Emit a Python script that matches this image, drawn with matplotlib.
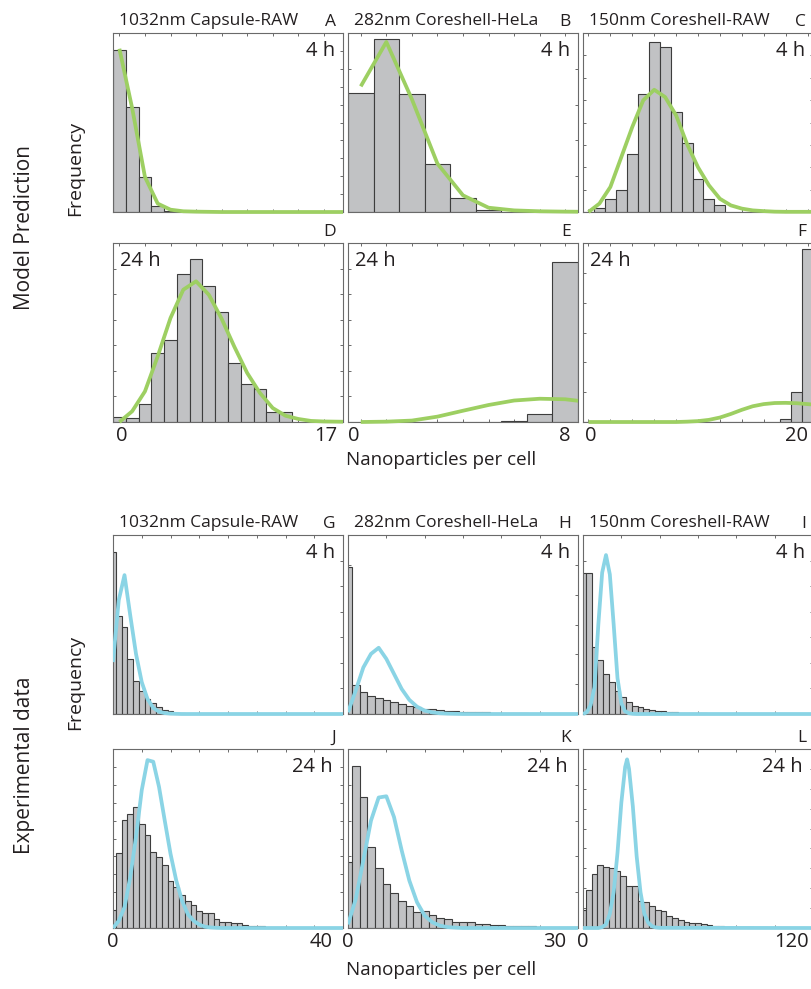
import numpy as np
import matplotlib
matplotlib.use('Agg')
import matplotlib.pyplot as plt
from matplotlib.transforms import ScaledTranslation, Bbox, TransformedBbox

plt.rcParams['font.family'] = ['Open Sans', 'DejaVu Sans']

# ---------------- data (frequencies as fraction of panel height) ----------------
titles = ['1032nm Capsule-RAW', '282nm Coreshell-HeLa', '150nm Coreshell-RAW']
letters = [['A', 'B', 'C'], ['D', 'E', 'F'], ['G', 'H', 'I'], ['J', 'K', 'L']]
time_labels = ['4 h', '24 h']
model_xmax = [17, 8, 20]
exp_xmax = [40, 30, 120]
model_bin = [1, 1, 1]
exp_bin = [1, 1, 3]

# Model prediction, 4 h
A_bars = [0.903, 0.587, 0.196, 0.034, 0.008, 0.002, 0, 0, 0, 0, 0, 0, 0, 0, 0, 0, 0, 0]
A_fit = [0.912, 0.58, 0.196, 0.047, 0.013, 0.004, 0.002, 0.001, 0, 0, 0, 0, 0, 0, 0, 0, 0, 0, 0]
B_bars = [0.665, 0.968, 0.657, 0.270, 0.080, 0.009, 0.002, 0, 0]
B_fit = [0.702, 0.950, 0.63, 0.27, 0.093, 0.024, 0.009, 0.004, 0.002, 0.001]
C_bars = [0, 0.024, 0.071, 0.125, 0.322, 0.661, 0.950, 0.922, 0.559, 0.387, 0.186,
          0.074, 0.037, 0, 0, 0, 0, 0, 0, 0, 0]
C_fit = [0, 0.047, 0.14, 0.307, 0.475, 0.624, 0.683, 0.642, 0.54, 0.38, 0.25,
         0.149, 0.074, 0.037, 0.019, 0.009, 0.005, 0.002, 0.001, 0.001, 0.001, 0.001]
# Model prediction, 24 h
D_bars = [0.028, 0.025, 0.10, 0.386, 0.458, 0.827, 0.912, 0.758, 0.614, 0.330,
          0.214, 0.184, 0.056, 0.056, 0, 0, 0, 0]
D_fit = [0, 0.06, 0.171, 0.367, 0.581, 0.739, 0.786, 0.711, 0.577, 0.42, 0.274,
         0.162, 0.078, 0.035, 0.017, 0.006, 0.003, 0.002, 0.001]
E_bars = [0, 0, 0, 0, 0, 0, 0.004, 0.047, 0.894]
E_fit = [0, 0.002, 0.008, 0.03, 0.063, 0.095, 0.12, 0.13, 0.127, 0.11]
F_bars = [0, 0, 0, 0, 0, 0, 0, 0, 0, 0, 0, 0, 0, 0, 0, 0, 0, 0, 0.017, 0.166, 0.968]
F_fit = [0, 0, 0, 0, 0, 0, 0, 0, 0, 0.002, 0.005, 0.012, 0.025, 0.045, 0.068,
         0.088, 0.1, 0.106, 0.107, 0.105, 0.1, 0.095]

# Experimental data, 4 h
G_bars = [0.907, 0.548, 0.486, 0.308, 0.187, 0.13, 0.084, 0.06, 0.04, 0.025, 0.015,
          0.008, 0.004, 0.002, 0.002, 0.001]
G_fit = [0.29, 0.636, 0.776, 0.551, 0.336, 0.178, 0.084, 0.034, 0.013, 0.005, 0.002,
         0.001, 0, 0, 0, 0, 0, 0, 0, 0, 0, 0, 0, 0, 0, 0, 0, 0, 0, 0, 0,
         0, 0, 0, 0, 0, 0, 0, 0, 0, 0]
H_bars = [0.819, 0.164, 0.121, 0.103, 0.09, 0.079, 0.065, 0.056, 0.043, 0.037, 0.028,
          0.026, 0.022, 0.019, 0.019, 0.013, 0.011, 0.011, 0.009, 0.008, 0.005,
          0.004, 0.003, 0.003, 0.002, 0.002, 0.001, 0.001, 0.001]
H_fit = [0.01, 0.13, 0.26, 0.336, 0.37, 0.308, 0.224, 0.14, 0.079, 0.041, 0.019,
         0.009, 0.004, 0.002, 0.001, 0, 0, 0, 0, 0, 0, 0, 0, 0, 0, 0, 0, 0, 0, 0, 0]
I_bars = [0.79, 0.79, 0.376, 0.299, 0.224, 0.178, 0.13, 0.093, 0.065, 0.047, 0.037,
          0.028, 0.022, 0.019, 0.015, 0.011, 0.009, 0.007, 0.006, 0.005, 0.003,
          0.003, 0.002, 0.002, 0.001]
I_fit_x = [0, 2, 4, 6, 8, 10, 12, 14, 16, 18, 20, 22, 24, 26, 28, 120]
I_fit = [0, 0.01, 0.05, 0.15, 0.5, 0.79, 0.888, 0.78, 0.5, 0.2, 0.06, 0.015, 0.004,
         0.001, 0, 0]
# Experimental data, 24 h
J_bars = [0.1, 0.419, 0.602, 0.639, 0.677, 0.583, 0.521, 0.424, 0.396, 0.35, 0.265,
          0.228, 0.185, 0.153, 0.129, 0.097, 0.084, 0.084, 0.05, 0.036, 0.032,
          0.028, 0.026, 0.019, 0.013, 0.011, 0.009, 0.007, 0.005, 0.004, 0.003,
          0.002, 0.002, 0.002, 0.002]
J_fit = [0, 0.04, 0.116, 0.284, 0.508, 0.77, 0.938, 0.929, 0.789, 0.60, 0.415, 0.265,
         0.153, 0.078, 0.041, 0.019, 0.007, 0.003, 0.001, 0, 0, 0, 0, 0, 0, 0, 0,
         0, 0, 0, 0, 0, 0, 0, 0, 0, 0, 0, 0, 0, 0]
K_bars = [0.368, 0.905, 0.733, 0.452, 0.336, 0.247, 0.196, 0.15, 0.125, 0.092, 0.093,
          0.073, 0.056, 0.05, 0.036, 0.036, 0.034, 0.022, 0.022, 0.019, 0.015,
          0.013, 0.011, 0.011, 0.009, 0.007, 0.006, 0.005, 0.004, 0.003, 0.003]
K_fit = [0.02, 0.16, 0.378, 0.6, 0.729, 0.736, 0.62, 0.434, 0.265, 0.144, 0.069,
         0.032, 0.013, 0.005, 0.002, 0, 0, 0, 0, 0, 0, 0, 0, 0, 0, 0, 0, 0, 0, 0, 0]
L_bars = [0.1, 0.213, 0.299, 0.353, 0.34, 0.335, 0.321, 0.29, 0.237, 0.234, 0.153,
          0.144, 0.121, 0.103, 0.097, 0.065, 0.056, 0.045, 0.036, 0.028, 0.026,
          0.022, 0.017, 0.013, 0.011, 0.007, 0.006, 0.005, 0.004, 0.003, 0.002,
          0.002, 0.001, 0.001]
L_fit_x = [0, 8, 10, 12, 14, 16, 18, 20, 22, 23, 24, 26, 28, 30, 32, 34, 36, 38, 40, 120]
L_fit = [0, 0, 0.005, 0.02, 0.08, 0.2, 0.42, 0.7, 0.9, 0.942, 0.89, 0.68, 0.4, 0.2,
         0.08, 0.03, 0.01, 0.003, 0.001, 0]

# y-tick interval counts per panel (right-hand tick marks)
ytick_counts = [[10, 5, 8], [7, 7, 6], [7, 6, 7], [10, 5, 9]]
xtick_steps = [[2, 1, 2], [2, 1, 2], [5, 5, 20], [5, 5, 20]]

# ---------------- styling / layout ----------------
W, H = 811, 989
BAR_FACE = '#c1c2c4'
BAR_EDGE = '#3d3d3d'
GREEN = '#9dcf62'
BLUE = '#8ad4e5'
SPINE = '#6a6a6a'
TXT = '#231f20'
cols = [113, 348, 583]
colw = 230
rows = [33, 243, 535, 749]
rowh = 179
max_label_dx = [[-11, 0, -11], [-22, -23, -22]]
zero_label_dx = [[2, -7, 2], [0, 0, 0]]

fig = plt.figure(figsize=(W / 100, H / 100), dpi=100)


def add_ax(left, top, w, h):
    return fig.add_axes([left / W, 1 - (top + h) / H, w / W, h / H])


def ftext(x, y, s, **kw):
    kw.setdefault('color', TXT)
    return fig.text(x / W, 1 - y / H, s, **kw)


panels = [
    [(A_bars, None, A_fit, GREEN), (B_bars, None, B_fit, GREEN), (C_bars, None, C_fit, GREEN)],
    [(D_bars, None, D_fit, GREEN), (E_bars, None, E_fit, GREEN), (F_bars, None, F_fit, GREEN)],
    [(G_bars, None, G_fit, BLUE), (H_bars, None, H_fit, BLUE), (I_bars, I_fit_x, I_fit, BLUE)],
    [(J_bars, None, J_fit, BLUE), (K_bars, None, K_fit, BLUE), (L_bars, L_fit_x, L_fit, BLUE)],
]

for r in range(4):
    is_model = r < 2
    for c in range(3):
        bars, fx, fy, lc = panels[r][c]
        binw = (model_bin if is_model else exp_bin)[c]
        xmax = (model_xmax if is_model else exp_xmax)[c]
        ax = add_ax(cols[c], rows[r], colw, rowh)
        centers = np.arange(len(bars)) * binw
        ax.bar(centers, bars, width=binw, color=BAR_FACE, edgecolor=BAR_EDGE,
               linewidth=0.8, zorder=1)
        if fx is None:
            fx = np.arange(len(fy))
        line, = ax.plot(fx, fy, color=lc, lw=2.7, zorder=3, solid_capstyle='butt')
        line.set_clip_box(TransformedBbox(Bbox([[0, -0.1], [1, 1.1]]), ax.transAxes))
        if is_model:
            ax.set_xlim(-0.5, xmax + 0.5)
        else:
            ax.set_xlim(0, xmax)
        ax.set_ylim(0, 1)
        step = xtick_steps[r][c]
        ax.set_xticks(np.arange(0, xmax + 0.01, step))
        ax.set_xticklabels([])
        ax.set_yticks(np.linspace(0, 1, ytick_counts[r][c] + 1))
        ax.set_yticklabels([])
        ax.tick_params(direction='in', length=2.2, width=0.7, color=SPINE,
                       top=True, right=True)
        ax.set_axisbelow(True)
        for sp in ax.spines.values():
            sp.set_color(SPINE)
            sp.set_linewidth(0.8)
        if r in (1, 3):
            blk = 0 if is_model else 1
            sec = ax.secondary_xaxis('bottom')
            sec.set_xticks([0, xmax])
            sec.set_xticklabels(['0', str(xmax)], fontsize=14.5, color=TXT)
            sec.tick_params(length=0, pad=3)
            sec.spines['bottom'].set_visible(False)
            labs = sec.get_xticklabels()
            labs[0].set_transform(labs[0].get_transform() +
                                  ScaledTranslation(zero_label_dx[blk][c] / 100, 0, fig.dpi_scale_trans))
            labs[1].set_transform(labs[1].get_transform() +
                                  ScaledTranslation(max_label_dx[blk][c] / 100, 0, fig.dpi_scale_trans))
        left = cols[c]
        right = cols[c] + colw
        top = rows[r]
        if r in (0, 2):
            ftext(left + 6, top - 8, titles[c], fontsize=12.5, ha='left', va='baseline')
        ftext(right - 7, top - 7, letters[r][c], fontsize=12.5, ha='right', va='baseline')
        if r == 1:
            ftext(left + 7, top + 18, time_labels[1], fontsize=14.5, ha='left', va='center')
        elif r == 3:
            ftext(right - 10, top + 18, time_labels[1], fontsize=14.5, ha='right', va='center')
        else:
            ftext(right - 8, top + 18, time_labels[0], fontsize=14.5, ha='right', va='center')

ftext(441, 460, 'Nanoparticles per cell', fontsize=13.5, ha='center', va='center')
ftext(441, 970, 'Nanoparticles per cell', fontsize=13.5, ha='center', va='center')
ftext(25, 228, 'Model Prediction', fontsize=15, rotation=90, ha='center', va='center')
ftext(25, 765, 'Experimental data', fontsize=15, rotation=90, ha='center', va='center')
ftext(75, 168, 'Frequency', fontsize=14, rotation=90, ha='center', va='center')
ftext(75, 682, 'Frequency', fontsize=14, rotation=90, ha='center', va='center')

fig.savefig('out.png', dpi=100)
